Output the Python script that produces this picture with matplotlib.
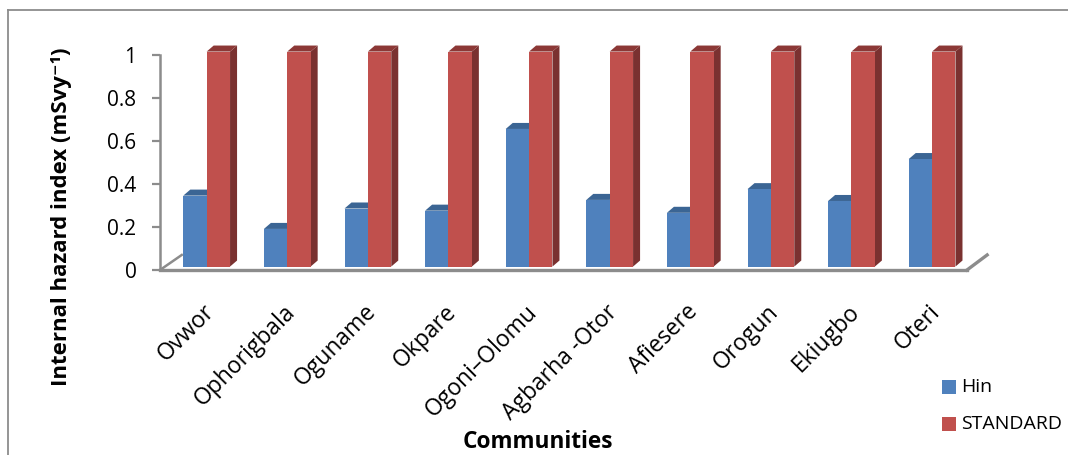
import matplotlib
matplotlib.use("Agg")
import matplotlib.pyplot as plt
from matplotlib.patches import Polygon, Rectangle
from matplotlib.lines import Line2D
import numpy as np

# Data
communities = ["Ovwor", "Ophorigbala", "Oguname", "Okpare", "Ogoni\u2013Olomu",
               "Agbarha -Otor", "Afiesere", "Orogun", "Ekiugbo", "Oteri"]
hin = [0.33, 0.175, 0.27, 0.26, 0.64, 0.31, 0.25, 0.36, 0.305, 0.50]
standard = [1, 1, 1, 1, 1, 1, 1, 1, 1, 1]
yticks = [0, 0.2, 0.4, 0.6, 0.8, 1]
ytick_labels = ["0", "0.2", "0.4", "0.6", "0.8", "1"]

W, H = 1068, 455
FONT = ["Open Sans", "DejaVu Sans"]
plt.rcParams["font.family"] = FONT

fig = plt.figure(figsize=(W / 100, H / 100), dpi=100)
fig.patch.set_facecolor("white")


def fx(px):
    return px / W


def fy(py):
    return 1 - py / H


ax = fig.add_axes([fx(160), fy(270), fx(967) - fx(160), fy(55) - fy(270)])
ax.set_xlim(-0.579, 9.433)
ax.set_ylim(0, 1)

# 3D look parameters (data units)
bw = 0.29       # bar width
dx = 0.087      # depth offset x
dy = 0.028      # depth offset y
lift = 0.016    # front faces sit slightly above the floor line

series = [
    (hin, -bw, "#4F81BD", "#3B6594", "#2F5077"),
    (standard, 0.0, "#C0504D", "#8C3836", "#7A3130"),
]

for vals, off, c_front, c_top, c_side in series:
    for i, v in enumerate(vals):
        x0 = i + off
        b = lift
        t = lift + v
        ax.add_patch(Polygon([(x0 + bw, b), (x0 + bw + dx, b + dy),
                              (x0 + bw + dx, t + dy), (x0 + bw, t)],
                             closed=True, facecolor=c_side, edgecolor="none",
                             zorder=2, clip_on=False))
        ax.add_patch(Polygon([(x0, t), (x0 + dx, t + dy),
                              (x0 + bw + dx, t + dy), (x0 + bw, t)],
                             closed=True, facecolor=c_top, edgecolor="none",
                             zorder=2, clip_on=False))
        ax.add_patch(Rectangle((x0, b), bw, v, facecolor=c_front,
                               edgecolor="none", zorder=3, clip_on=False))

# axes look
for s in ["top", "right"]:
    ax.spines[s].set_visible(False)
ax.spines["left"].set_color("#8C8C8C")
ax.spines["left"].set_linewidth(1.8)
ax.spines["bottom"].set_color("#8C8C8C")
ax.spines["bottom"].set_linewidth(2.4)
ax.spines["bottom"].set_zorder(4)

# floor depth edges
ax.plot([-0.579, -0.579 + 0.27], [0, 0.07], color="#8C8C8C", lw=1.8, clip_on=False, zorder=1)
ax.plot([9.433, 9.433 + 0.25], [0, 0.07], color="#8C8C8C", lw=2.4, clip_on=False, zorder=1)

ax.set_yticks(yticks)
ax.set_yticklabels(ytick_labels, fontsize=15)
ax.tick_params(axis="y", length=6, width=1.6, color="#8C8C8C", pad=11)
ax.set_xticks([])

for i, name in enumerate(communities):
    ax.text(i - 0.05, -0.14, name, rotation=45, ha="right", va="top",
            rotation_mode="anchor", fontsize=16.5, clip_on=False)

fig.text(fx(62), fy(217), "Internal hazard index (mSvy\u207b\u00b9)", rotation=90,
         ha="center", va="center", fontsize=16, fontweight="bold")
fig.text(fx(538), fy(442), "Communities", ha="center", va="center",
         fontsize=16.3, fontweight="bold")

# legend
leg_items = [("Hin", "#4F81BD", 387), ("STANDARD", "#C0504D", 424)]
for label, col, yc in leg_items:
    fig.add_artist(Rectangle((fx(942), fy(yc + 7)), fx(14), fy(0) - fy(14),
                             transform=fig.transFigure, facecolor=col, edgecolor="none"))
    fig.text(fx(961), fy(yc), label, ha="left", va="center", fontsize=14)

# outer frame (cropped at right and bottom)
fig.add_artist(Line2D([fx(8), fx(8)], [fy(10), 0], transform=fig.transFigure,
                      color="#8C8C8C", lw=1.3))
fig.add_artist(Line2D([fx(8), 1], [fy(10), fy(10)], transform=fig.transFigure,
                      color="#8C8C8C", lw=1.3))

fig.savefig("out.png", dpi=100)
